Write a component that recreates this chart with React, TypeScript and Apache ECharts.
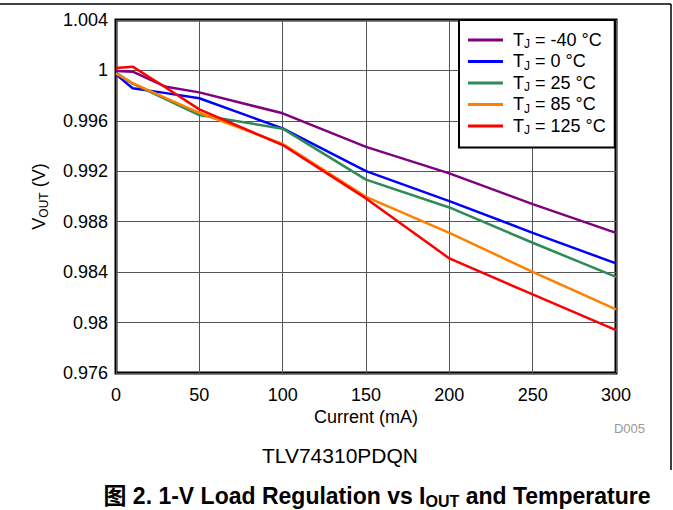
import React, { useEffect, useRef } from "react";
import * as echarts from "echarts";

// Load current (mA)
const currents = [0, 10, 30, 50, 100, 150, 200, 250, 300];
// Output voltage (V) per junction temperature
const vTjM40 = [0.99995, 0.9999, 0.9987, 0.99826, 0.9966, 0.99394, 0.99183, 0.9894, 0.98712];
const vTj0 = [0.99969, 0.99858, 0.9982, 0.99779, 0.9954, 0.99201, 0.98963, 0.98712, 0.98469];
const vTj25 = [0.99982, 0.99895, 0.9977, 0.99646, 0.99538, 0.99134, 0.98913, 0.98633, 0.98362];
const vTj85 = [0.99975, 0.999, 0.9978, 0.99664, 0.99418, 0.98997, 0.98712, 0.98402, 0.98104];
const vTj125 = [1.0002, 1.0003, 0.99863, 0.99691, 0.99408, 0.98985, 0.98509, 0.98223, 0.9794];
const temps = ["-40", "0", "25", "85", "125"];
const seriesValues = [vTjM40, vTj0, vTj25, vTj85, vTj125];

const palette = ["#800080", "#0000FF", "#2E8B57", "#FF7F00", "#FF0000"];
const FONT = "'Liberation Sans', Arial, 'Noto Sans CJK SC', sans-serif";

export default function App() {
  const ref = useRef<HTMLDivElement>(null);
  useEffect(() => {
    if (!ref.current) return;
    const chart = echarts.init(ref.current, null, { renderer: "svg" });
    const names = temps.map((t) => `TJ = ${t} °C`);
    chart.setOption({
      animation: false,
      backgroundColor: "#fff",
      textStyle: { fontFamily: FONT },
      grid: {
        left: 116,
        top: 20,
        right: 57,
        bottom: 137,
        show: true,
        borderColor: "#000",
        borderWidth: 3,
        backgroundColor: "transparent",
      },
      legend: {
        data: names,
        orient: "vertical",
        left: 459,
        top: 20,
        padding: [11, 9, 11, 9],
        icon: "rect",
        itemWidth: 35,
        itemHeight: 3,
        itemGap: 2,
        borderColor: "#000",
        borderWidth: 2,
        backgroundColor: "#fff",
        formatter: (name: string) => {
          const idx = names.indexOf(name);
          return `{f|T}{s|J}{a| = ${temps[idx]} °C}`;
        },
        textStyle: {
          fontFamily: FONT,
          fontSize: 18,
          color: "#000",
          rich: {
            f: { fontSize: 18, lineHeight: 21, color: "#000", fontFamily: FONT, padding: [0, 0, 0, 5] },
            a: { fontSize: 18, lineHeight: 21, color: "#000", fontFamily: FONT },
            s: { fontSize: 12, color: "#000", fontFamily: FONT, verticalAlign: "bottom" },
          },
        },
      },
      xAxis: {
        type: "value",
        min: 0,
        max: 300,
        interval: 50,
        name: "Current (mA)",
        nameLocation: "middle",
        nameGap: 35,
        nameMoveOverlap: false,
        nameTextStyle: { fontSize: 18, color: "#000", fontFamily: FONT },
        axisLine: { show: false },
        axisTick: { show: false },
        axisLabel: { fontSize: 18, color: "#000", margin: 13, fontFamily: FONT },
        splitLine: { show: true, lineStyle: { color: "#555", width: 1 } },
      },
      yAxis: {
        type: "value",
        min: 0.976,
        max: 1.004,
        interval: 0.004,
        name: "{a|V}{s|OUT}{a| (V)}",
        nameLocation: "middle",
        nameGap: 66,
        nameMoveOverlap: false,
        nameRotate: 90,
        nameTextStyle: {
          fontSize: 18,
          color: "#000",
          fontFamily: FONT,
          rich: {
            a: { fontSize: 18, lineHeight: 22, color: "#000", fontFamily: FONT },
            s: { fontSize: 12, color: "#000", fontFamily: FONT, verticalAlign: "bottom" },
          },
        },
        axisLine: { show: false },
        axisTick: { show: false },
        axisLabel: { fontSize: 18, color: "#000", margin: 8, fontFamily: FONT },
        splitLine: { show: true, lineStyle: { color: "#555", width: 1 } },
      },
      series: seriesValues.map((vals, i) => ({
        name: names[i],
        type: "line",
        symbol: "none",
        showSymbol: false,
        color: palette[i],
        lineStyle: { color: palette[i], width: 2.5 },
        data: currents.map((c, j) => [c, vals[j]]),
        z: 2 + i,
      })),
      graphic: [
        {
          type: "line",
          shape: { x1: 0, y1: 4, x2: 671, y2: 4 },
          style: { stroke: "#000", lineWidth: 1.5 },
        },
        {
          type: "line",
          shape: { x1: 671, y1: 4, x2: 671, y2: 470 },
          style: { stroke: "#000", lineWidth: 1.5 },
        },
        {
          type: "text",
          x: 645,
          y: 428,
          style: {
            text: "D005",
            fontSize: 13,
            fontFamily: FONT,
            fill: "#999",
            align: "right",
            verticalAlign: "middle",
          },
        },
        {
          type: "text",
          x: 340,
          y: 455,
          style: {
            text: "TLV74310PDQN",
            fontSize: 21,
            fontFamily: FONT,
            fill: "#000",
            align: "center",
            verticalAlign: "middle",
          },
        },
        {
          type: "text",
          x: 377,
          y: 496,
          style: {
            text: "{b|图 2. 1-V Load Regulation vs I}{s|OUT}{b| and Temperature}",
            align: "center",
            verticalAlign: "middle",
            rich: {
              b: { fontSize: 23, fontWeight: "bold", fontFamily: FONT, fill: "#000", lineHeight: 27 },
              s: { fontSize: 16, fontWeight: "bold", fontFamily: FONT, fill: "#000", verticalAlign: "bottom" },
            },
          },
        },
      ],
    });
    return () => chart.dispose();
  }, []);
  return (
    <div
      ref={ref}
      style={{ position: "fixed", left: 0, top: 0, width: 673, height: 510, background: "#fff" }}
    />
  );
}
